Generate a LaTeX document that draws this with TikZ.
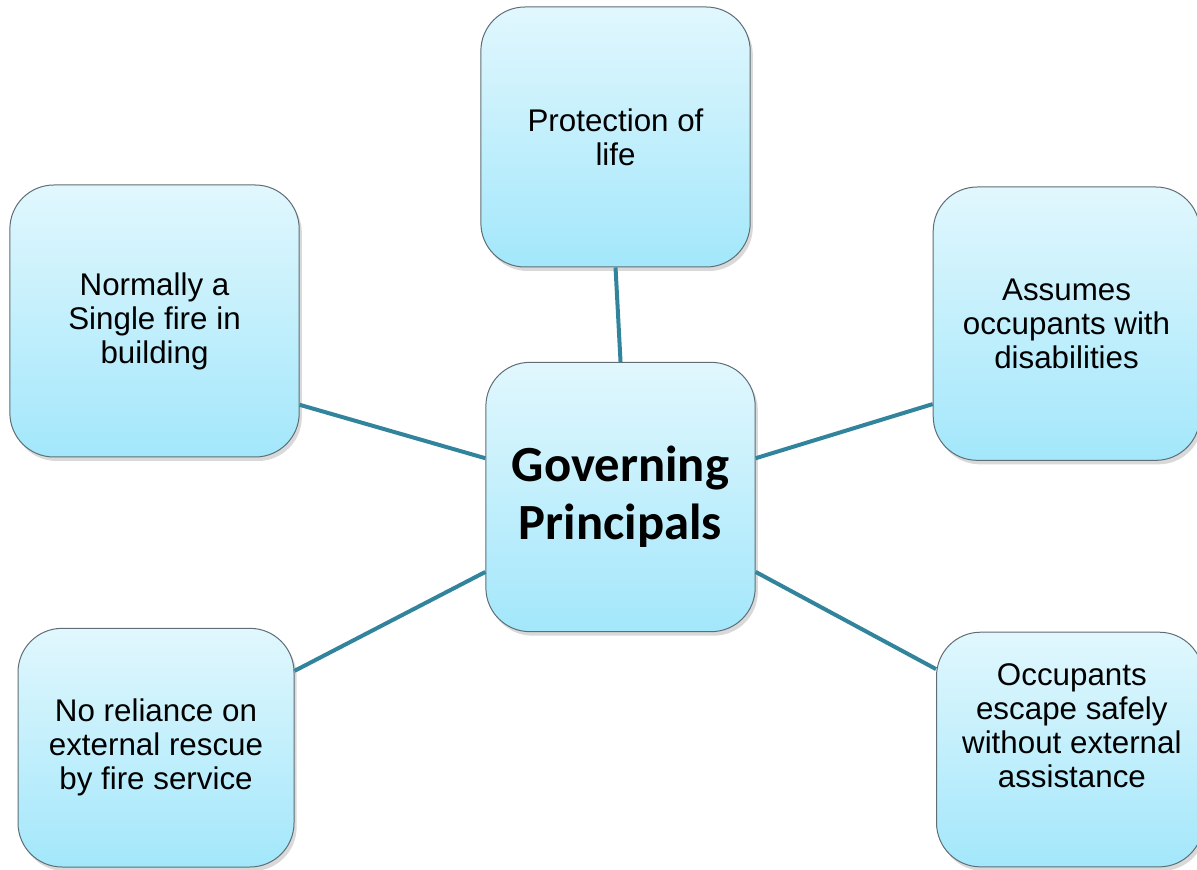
\documentclass[tikz,border=0pt]{standalone}
\usepackage{fontspec}
\setmainfont{Liberation Sans}
\newfontfamily\headfont{Carlito}
\usetikzlibrary{positioning, shadows}

\definecolor{boxtop}{HTML}{E1F7FD}
\definecolor{boxbottom}{HTML}{A3E7FB}
\definecolor{boxline}{HTML}{5E6E74}
\definecolor{linkteal}{HTML}{31849B}

\begin{document}
\begin{tikzpicture}[on grid, auto,
    idea/.style={rectangle, rounded corners=33pt, draw=boxline, line width=0.75pt,
        top color=boxtop, bottom color=boxbottom, align=center, inner sep=0pt,
        font=\fontsize{23.5}{25.5}\selectfont,
        drop shadow={shadow xshift=2pt, shadow yshift=-3pt, opacity=0.3}},
    link/.style={draw=linkteal, line width=3pt}]
    \useasboundingbox (0,0) rectangle (897.75pt,651.75pt);

    \node[idea, minimum width=202pt, minimum height=202pt,
        font=\headfont\bfseries\fontsize{38}{43.5}\selectfont] (gov) at (465.4pt,279pt) {Governing\\Principals};
    \node[idea, minimum width=202pt, minimum height=195pt] (life) [above=270pt of gov, xshift=-3.75pt] {Protection of\\life};
    \node[idea, minimum width=217pt, minimum height=204pt] (single) [above left=132pt and 349.5pt of gov] {Normally a\\Single fire in\\building};
    \node[idea, minimum width=200pt, minimum height=205pt] (disab) [above right=130pt and 334.5pt of gov] {Assumes\\occupants with\\disabilities};
    \node[idea, minimum width=207pt, minimum height=179pt] (rescue) [below left=188pt and 348.4pt of gov] {No reliance on\\external rescue\\by fire service};
    \node[idea, minimum width=200pt, minimum height=176pt,
        label={[font=\fontsize{23.5}{25.5}\selectfont, align=center, yshift=18pt, xshift=1.5pt]center:{Occupants\\escape safely\\without external\\assistance}}] (escape) [below right=189.4pt and 337pt of gov] {};

    \path[link]
    (life.south) edge (gov.north)
    (single.-30) edge (gov.164.6)
    (disab.-149) edge (gov.16.9)
    (rescue.29.3) edge (gov.-151)
    (escape.149.2) edge (gov.-29.1);

\end{tikzpicture}
\end{document}
